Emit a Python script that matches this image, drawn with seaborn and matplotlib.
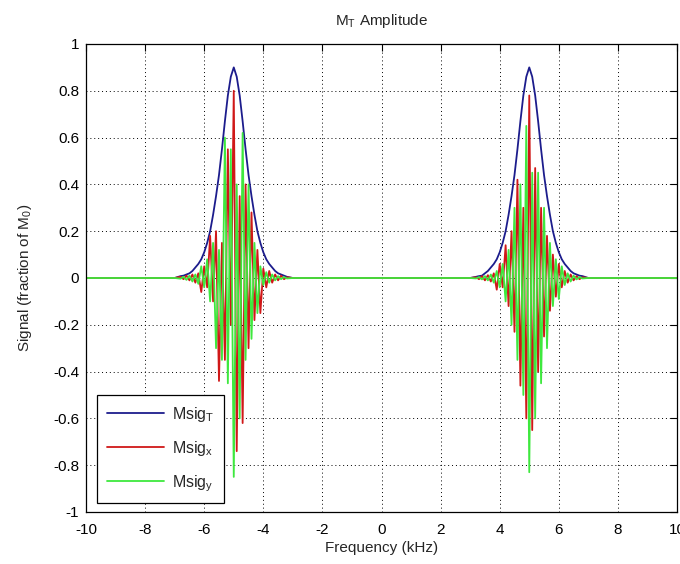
import numpy as np
import pandas as pd
import seaborn as sns
import matplotlib.pyplot as plt

# --- data ---
# sampled frequencies around each peak (kHz)
freq_left = np.round(np.arange(-6.8, -3.15, 0.1), 1)
freq_right = np.round(np.arange(3.2, 6.85, 0.1), 1)
# flat parts far from the peaks
freq_flat = [-10, -9, -8, -7.5, -7, -3, -2, -1, 0, 1, 2, 3, 7, 7.5, 8, 9, 10]

# transverse magnitude |M_T|
mt_left = [0.008, 0.01, 0.015, 0.02, 0.03, 0.045, 0.06, 0.08, 0.11, 0.15,
           0.20, 0.27, 0.35, 0.44, 0.55, 0.67, 0.78, 0.86, 0.90, 0.86, 0.78, 0.67,
           0.55, 0.44, 0.35, 0.27, 0.20, 0.15, 0.11, 0.08, 0.06, 0.045, 0.03, 0.02, 0.015,
           0.01, 0.005]
mt_right = [0.005, 0.008, 0.01, 0.02, 0.03, 0.045, 0.06, 0.08, 0.11, 0.15, 0.20, 0.27,
            0.35, 0.44, 0.55, 0.67, 0.78, 0.86, 0.90, 0.86, 0.78, 0.67, 0.55, 0.44,
            0.35, 0.27, 0.20, 0.15, 0.11, 0.08, 0.06, 0.045, 0.03, 0.02, 0.015, 0.01, 0.008]

# x component
mx_left = [0.005, -0.005, 0.01, -0.01, 0.015, -0.02, 0.02, -0.06, 0.05, -0.04, 0.18, -0.10,
           0.20, -0.44, 0.15, -0.35, 0.55, -0.20, 0.80, -0.74, 0.35, -0.62, 0.40, -0.30,
           0.28, -0.18, 0.12, -0.15, 0.04, -0.04, 0.03, -0.02, 0.015, -0.01, 0.01, -0.005, 0.003]
mx_right = [0.003, -0.005, 0.008, -0.01, 0.012, -0.015, 0.02, -0.05, 0.06, -0.04, 0.14, -0.12,
            0.20, -0.23, 0.42, -0.46, 0.30, -0.60, 0.78, -0.65, 0.47, -0.40, 0.30, -0.25,
            0.18, -0.14, 0.10, -0.08, 0.06, -0.04, 0.03, -0.02, 0.015, -0.01, 0.008, -0.005, 0.003]

# y component
my_left = [-0.003, 0.005, -0.008, 0.01, -0.015, 0.015, -0.025, 0.05, -0.04, 0.08, -0.10, 0.15,
           -0.30, 0.12, -0.35, 0.60, -0.45, 0.55, -0.85, 0.40, -0.60, 0.62, -0.35, 0.40,
           -0.26, 0.15, -0.15, 0.05, -0.03, 0.025, -0.02, 0.015, -0.01, 0.008, -0.005, 0.004, -0.002]
my_right = [-0.002, 0.004, -0.006, 0.008, -0.01, 0.015, -0.02, 0.03, -0.04, 0.06, -0.10, 0.12,
            -0.20, 0.30, -0.35, 0.40, -0.50, 0.65, -0.83, 0.45, -0.60, 0.45, -0.45, 0.30,
            -0.30, 0.15, -0.12, 0.08, -0.09, 0.05, -0.03, 0.02, -0.015, 0.01, -0.006, 0.004, -0.002]

series_names = ['Msig$_T$', 'Msig$_x$', 'Msig$_y$']
series_colors = ['#1c1c8c', '#d01818', '#3ee83e']
x_ticks = list(range(-10, 11, 2))
y_ticks = [-1, -0.8, -0.6, -0.4, -0.2, 0, 0.2, 0.4, 0.6, 0.8, 1]
y_tick_labels = ['-1', '-0.8', '-0.6', '-0.4', '-0.2', '0', '0.2', '0.4', '0.6', '0.8', '1']


def build_frame():
    freq = np.concatenate([freq_left, freq_right, freq_flat])
    zeros = [0.0] * len(freq_flat)
    parts = []
    for name, left, right in zip(series_names,
                                 [mt_left, mx_left, my_left],
                                 [mt_right, mx_right, my_right]):
        vals = np.concatenate([left, right, zeros])
        parts.append(pd.DataFrame({'freq': freq, 'signal': vals, 'series': name}))
    df = pd.concat(parts, ignore_index=True)
    return df.sort_values(['series', 'freq'], kind='stable')


if __name__ == "__main__":
    sns.set_style('white')
    plt.rcParams['font.family'] = ['Liberation Sans', 'DejaVu Sans']
    plt.rcParams['mathtext.fontset'] = 'custom'
    plt.rcParams['mathtext.rm'] = 'Liberation Sans'
    plt.rcParams['mathtext.it'] = 'Liberation Sans'
    plt.rcParams['axes.unicode_minus'] = False

    df = build_frame()

    fig = plt.figure(figsize=(6.8, 5.64), dpi=100)
    ax = fig.add_axes([0.1265, 0.0922, 0.8691, 0.8298])

    sns.lineplot(data=df, x='freq', y='signal', hue='series', hue_order=series_names,
                 palette=series_colors, sort=False, estimator=None, linewidth=1.3, ax=ax)

    ax.set_xlim(-10, 10)
    ax.set_ylim(-1, 1)
    ax.set_xticks(x_ticks)
    ax.set_yticks(y_ticks)
    ax.set_yticklabels(y_tick_labels)
    ax.tick_params(direction='in', top=True, right=True, length=5, width=0.8,
                   labelsize=11, colors='black')
    ax.tick_params(axis='x', pad=8)
    ax.tick_params(axis='y', pad=5)
    ax.grid(True, linestyle=(0, (1, 3)), color='black', linewidth=0.7)
    for s in ax.spines.values():
        s.set_color('black')
        s.set_linewidth(0.9)

    ax.set_title('M$_T$ Amplitude', fontsize=11, pad=14)
    ax.set_xlabel('Frequency (kHz)', fontsize=11, labelpad=3)
    ax.set_ylabel('Signal (fraction of M$_0$)', fontsize=11, labelpad=14)

    leg = ax.legend(loc='lower left', bbox_to_anchor=(0.0186, 0.019), borderaxespad=0,
                    fontsize=11.5, handlelength=3.6, labelspacing=0.95, fancybox=False,
                    framealpha=1, edgecolor='black', borderpad=0.6, handletextpad=0.5)
    leg.get_frame().set_linewidth(0.9)

    fig.savefig('out.png', dpi=100)
